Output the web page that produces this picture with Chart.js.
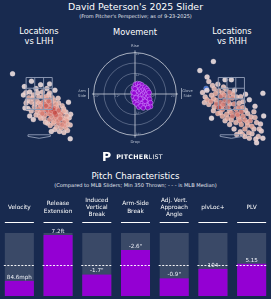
<!DOCTYPE html>
<html lang="en">

<head>
    <meta charset="UTF-8">
    <title>David Peterson's 2025 Slider</title>
    <script src="https://cdn.jsdelivr.net/npm/chart.js"></script>
    <style>
        body {
            margin: 0;
            width: 271px;
            height: 299px;
            background: #182a4f;
            overflow: hidden;
            position: relative;
            font-family: 'DejaVu Sans', sans-serif;
            color: #ffffff;
        }

        .txt {
            position: absolute;
            text-align: center;
            white-space: nowrap;
        }

        canvas {
            position: absolute;
        }
    </style>
</head>

<body>
    <div class="txt" style="left:0;width:271px;top:1px;font-size:9.4px;line-height:12px">David Peterson's 2025 Slider</div>
    <div class="txt" style="left:0;width:271px;top:13px;font-size:5px;line-height:6px;color:#e4e8ef">(From Pitcher's Perspective; as of 9-23-2025)</div>

    <div class="txt" style="left:0;width:78px;top:26px;font-size:8.3px;line-height:10px">Locations<br>vs LHH</div>
    <div class="txt" style="left:85px;width:100px;top:27px;font-size:8.3px;line-height:10px">Movement</div>
    <div class="txt" style="left:193px;width:78px;top:26px;font-size:8.3px;line-height:10px">Locations<br>vs RHH</div>

    <canvas id="locLHH" width="90" height="105" style="left:0;top:45px"></canvas>
    <canvas id="movimento" width="96" height="108" style="left:87px;top:40px"></canvas>
    <canvas id="locRHH" width="90" height="105" style="left:181px;top:45px"></canvas>

    <div class="txt" style="left:102px;top:151px;height:12px;display:flex;align-items:center;gap:5px">
        <span style="font-size:12.5px;font-weight:bold;line-height:12px">P</span>
        <span style="font-size:6.3px;line-height:8px;letter-spacing:0.3px"><b>PITCHER</b>LIST</span>
    </div>

    <div class="txt" style="left:0;width:271px;top:171px;font-size:8.6px;line-height:10px">Pitch Characteristics</div>
    <div class="txt" style="left:0;width:271px;top:182px;font-size:5.1px;line-height:6px;color:#e4e8ef">(Compared to MLB Sliders; Min 350 Thrown; - - - is MLB Median)</div>

    <canvas id="barras" width="271" height="109" style="left:0;top:190px"></canvas>
</body>

</html>
<script>
    // pitch locations in feet (plate_x, plate_z), pitcher's perspective
    const LHH_LOCS = [
        [-1.69, 3.73], [-0.49, 3.27], [0.09, 3.04], [0.66, 3.1], [-0.94, 2.93], [-0.2, 2.81], [0.49, 2.81],
        [-1.0, 2.41], [-0.37, 2.41], [-0.66, 2.24], [0.66, 2.53], [1.0, 2.7], [0.2, 2.59], [-0.03, 2.3],
        [0.43, 2.3], [0.83, 2.24], [-0.83, 1.9], [-0.49, 1.96], [-0.14, 2.01], [0.26, 1.96], [0.6, 2.01],
        [0.94, 2.07], [1.23, 1.9], [-0.71, 1.56], [-0.31, 1.67], [0.09, 1.73], [0.43, 1.73], [0.77, 1.79],
        [1.11, 1.67], [1.46, 1.73], [1.86, 1.96], [-0.14, 1.39], [0.2, 1.44], [0.54, 1.44], [0.89, 1.5],
        [1.23, 1.44], [1.57, 1.39], [0.03, 1.1], [0.37, 1.16], [0.71, 1.21], [1.06, 1.16], [1.4, 1.21],
        [1.74, 1.1], [0.31, 0.93], [0.66, 0.87], [1.0, 0.93], [1.34, 0.93], [1.69, 0.87], [1.91, 0.99],
        [0.54, 0.64], [0.89, 0.64], [1.23, 0.64], [1.57, 0.7], [1.8, 0.59], [1.11, 0.41], [1.4, 0.36],
        [1.69, 0.36], [1.97, 0.53], [1.29, 0.13], [1.57, 0.07], [1.8, 0.19], [0.77, 0.13], [1.97, -0.33],
        [-0.6, 1.1], [-0.37, 0.87], [0.15, 1.85], [0.4, 2.05], [0.55, 1.65], [0.7, 1.55], [0.3, 1.6],
        [0.85, 1.35], [1.0, 1.3], [0.6, 1.25], [1.1, 1.0], [0.8, 1.05], [1.3, 1.1], [1.5, 0.95], [1.2, 0.8],
        [0.95, 0.75], [1.45, 0.55], [1.6, 0.5], [0.1, 1.3], [-0.05, 1.55], [0.0, 1.9], [0.5, 2.15],
        [0.35, 1.85], [0.65, 1.85], [0.8, 1.95], [0.45, 1.5], [0.2, 1.25], [1.15, 1.55], [1.3, 1.3],
        [0.75, 1.4], [0.95, 1.6], [1.05, 1.85], [-0.4, 2.2], [-0.25, 1.85], [-0.6, 2.6], [-0.85, 2.55],
        [-0.75, 2.05], [-0.5, 1.4], [-0.2, 1.15], [0.1, 0.95], [1.75, 0.8], [1.55, 1.55], [1.7, 1.35],
        [2.0, 1.2], [0.4, 0.7], [0.7, 0.5], [1.0, 0.25], [-0.9, 1.6], [0.25, 2.3], [0.6, 2.4], [1.2, 2.2],
        [-0.1, 2.55]
    ];
    const RHH_LOCS = [
        [-1.14, 4.5], [-2.0, 3.93], [-1.54, 3.53], [-1.43, 3.25], [-1.83, 2.56], [-1.66, 2.28], [-1.71, 1.93],
        [-1.43, 1.82], [-1.54, 2.11], [-1.26, 2.39], [-1.09, 2.79], [-0.86, 3.08], [-0.4, 3.36], [0, 3.36],
        [-0.11, 2.56], [-0.23, 2.28], [-0.69, 1.93], [-0.51, 1.82], [0.06, 2.22], [0.34, 2.28], [0.74, 1.99],
        [1.14, 2.11], [2.0, 2.51], [-0.11, 1.42], [0.29, 1.53], [0.63, 1.36], [1.03, 1.25], [1.43, 1.36],
        [0.06, 1.08], [0.46, 0.96], [0.86, 0.85], [1.2, 0.79], [1.6, 0.68], [0.63, 0.56], [1.03, 0.51],
        [1.43, 0.28], [1.77, 0.28], [1.31, -0.01], [1.71, -0.18], [2.0, -0.29], [1.6, -0.58], [0.86, 0.28],
        [0.57, 0.11], [-0.86, 1.25], [-0.57, 1.08], [-1.14, 1.42], [-1.09, 1.65], [-1.26, 0.96], [-0.4, 0.79],
        [-0.11, 0.56], [0.29, 0.68], [0.17, 0.28], [0.34, -0.07], [0.86, -0.18], [1.14, -0.29],
        [-0.8, 2.65], [-0.57, 2.53], [-0.34, 2.76], [-0.69, 2.31], [-0.4, 2.08], [-0.11, 1.85], [-0.97, 2.08],
        [0.17, 1.85], [0.46, 1.62], [-0.23, 1.62], [-0.57, 1.5], [0.74, 1.62], [-0.8, 1.62], [-1.14, 2.19],
        [0.34, 1.25], [0, 0.85], [0.74, 1.08], [-0.45, 2.4], [-0.2, 2.0], [0.1, 2.45], [-0.6, 1.7], [0.0, 1.3],
        [0.5, 1.9], [0.9, 1.45], [1.25, 1.05], [1.0, 0.7], [0.4, 1.15], [-0.3, 1.2], [-0.95, 1.85], [-1.3, 2.0],
        [-1.0, 2.5], [0.6, 2.3], [1.5, 1.0], [1.85, 0.6], [1.3, 0.45], [0.55, 0.8], [-0.25, 0.95], [-0.7, 1.3],
        [0.2, 2.7], [-0.5, 2.9], [-1.2, 3.0], [-1.55, 2.7], [0.9, 2.45], [1.5, 1.7], [2.05, 1.1], [1.9, 0.15],
        [1.1, 0.05], [0.7, -0.05], [1.55, -0.35]
    ];
    const RHH_COLD = [[-1.6, 2.82]];

    // horizontal / induced vertical movement, inches
    const MOVEMENT = [
        [-1.2, 1.0], [-0.8, 3.5], [0.2, 5.5], [1.5, 6.0], [2.8, 5.8], [4.0, 5.2], [-1.0, -1.5], [-0.5, -3.5],
        [0.0, -5.0], [0.8, 1.8], [1.0, -0.5], [1.5, 3.8], [2.0, 1.5], [2.2, -2.0], [2.5, 4.2], [3.0, 0.5],
        [3.2, 2.8], [3.5, -1.0], [3.8, -3.5], [4.0, 1.8], [4.2, 3.8], [4.5, -0.2], [5.0, 2.5], [5.2, -2.2],
        [5.5, 0.8], [5.8, 4.0], [6.0, -1.0], [6.3, 1.8], [6.5, -3.2], [6.8, 3.0], [7.0, 0.2], [7.2, -2.0],
        [7.5, 2.0], [7.8, -4.5], [8.0, -1.0], [8.2, 0.8], [1.8, -3.8], [2.8, -5.0], [4.2, -5.5], [5.5, -6.2],
        [6.8, -6.0], [8.0, -6.5], [9.0, -7.2], [7.5, -7.8], [5.8, -4.2], [3.0, -2.8], [0.5, -2.2], [1.2, -6.0],
        [2.2, -7.5], [3.5, -6.8], [4.8, -8.0], [8.5, -3.0], [9.0, -5.0], [0.0, 3.0], [-0.5, 0.5]
    ];
    const RINGS = [6, 12, 18, 24];

    const METRICS = [['Velocity'], ['Release', 'Extension'], ['Induced', 'Vertical', 'Break'], ['Arm-Side', 'Break'],
        ['Adj. Vert.', 'Approach', 'Angle'], ['plvLoc+'], ['PLV']];
    const PERCENTILES = [24, 97, 34, 73, 28, 43, 51];
    const VALUE_LABELS = ['84.6mph', '7.2ft', '-1.7"', '-2.6"', '-0.9"', '104', '5.15'];
    const MLB_MEDIAN = 50;

    const ZONE_X = [-0.83, -0.28, 0.28, 0.83];
    const ZONE_Z = [1.5, 2.17, 2.83, 3.5];
    const PLATE = [[-0.71, -0.08], [0.71, -0.08], [0.71, -0.18], [0, -0.3], [-0.71, -0.18]];

    const FONTE = "'DejaVu Sans', sans-serif";
    const ROXO = '#9400d3';

    function densidade(pts) {
        return pts.map(p => pts.filter(q => Math.hypot(p[0] - q[0], p[1] - q[1]) < 0.4).length);
    }

    function corCalor(t) {
        t = Math.pow(t, 1.3);
        var a = [243, 228, 228], b = [231, 170, 156], c = [201, 78, 72];
        var de = t < 0.5 ? a : b, para = t < 0.5 ? b : c, k = t < 0.5 ? t * 2 : (t - 0.5) * 2;
        var rgb = de.map((v, i) => Math.round(v + (para[i] - v) * k));
        return `rgba(${rgb[0]},${rgb[1]},${rgb[2]},0.88)`;
    }

    function zonaPlugin(lado) {
        return {
            id: 'zona',
            afterDatasetsDraw(chart) {
                const { ctx, scales: { x, y } } = chart;
                ctx.save();
                ctx.strokeStyle = 'rgba(140,152,178,0.95)';
                ctx.lineWidth = 1;
                ZONE_X.forEach(v => {
                    ctx.beginPath();
                    ctx.moveTo(x.getPixelForValue(v), y.getPixelForValue(ZONE_Z[0]));
                    ctx.lineTo(x.getPixelForValue(v), y.getPixelForValue(ZONE_Z[3]));
                    ctx.stroke();
                });
                ZONE_Z.forEach(v => {
                    ctx.beginPath();
                    ctx.moveTo(x.getPixelForValue(ZONE_X[0]), y.getPixelForValue(v));
                    ctx.lineTo(x.getPixelForValue(ZONE_X[3]), y.getPixelForValue(v));
                    ctx.stroke();
                });
                ctx.beginPath();
                PLATE.forEach((p, i) => {
                    var px = x.getPixelForValue(p[0]), py = y.getPixelForValue(p[1]);
                    if (i === 0) ctx.moveTo(px, py); else ctx.lineTo(px, py);
                });
                ctx.closePath();
                ctx.stroke();

                // side label
                ctx.fillStyle = 'rgba(200,208,222,0.9)';
                ctx.font = '3.6px ' + FONTE;
                ctx.textAlign = 'center';
                ctx.textBaseline = 'middle';
                const yl = y.getPixelForValue(2.5);
                const linhas = lado === 'arm' ? ['Arm', 'Side'] : ['Glove', 'Side'];
                const xl = lado === 'arm' ? chart.width - 8 : 6.5;
                ctx.fillText(linhas[0], xl, yl - 2.3);
                ctx.fillText(linhas[1], xl, yl + 2.3);
                ctx.strokeStyle = 'rgba(200,208,222,0.8)';
                ctx.lineWidth = 0.8;
                const xt = lado === 'arm' ? chart.width - 1.5 : 0.5;
                ctx.beginPath();
                ctx.moveTo(xt, yl - 5.5);
                ctx.lineTo(xt, yl + 5.5);
                ctx.stroke();
                ctx.restore();
            }
        };
    }

    function graficoLocal(id, pts, xMin, xMax, lado, frios) {
        const dens = densidade(pts);
        const dmin = Math.min(...dens), dmax = Math.max(...dens);
        const ordem = pts.map((p, i) => i).sort((a, b) => dens[a] - dens[b]);
        const datasets = [{
            data: ordem.map(i => ({ x: pts[i][0], y: pts[i][1] })),
            backgroundColor: ordem.map(i => corCalor((dens[i] - dmin) / (dmax - dmin))),
            borderColor: 'rgba(255,240,240,0.45)',
            borderWidth: 0.5,
            pointRadius: 2.5,
            clip: false
        }];
        if (frios) {
            datasets.push({
                data: frios.map(p => ({ x: p[0], y: p[1] })),
                backgroundColor: '#3d6fd6',
                borderColor: 'rgba(255,255,255,0.4)',
                borderWidth: 0.5,
                pointRadius: 2.5,
                clip: false
            });
        }
        return new Chart(document.getElementById(id), {
            type: 'scatter',
            data: { datasets: datasets },
            options: {
                responsive: false,
                animation: false,
                events: [],
                layout: { padding: 0 },
                plugins: { legend: { display: false }, tooltip: { enabled: false } },
                scales: {
                    x: { type: 'linear', min: xMin, max: xMax, display: false },
                    y: { type: 'linear', min: -0.75, max: 5.25, display: false }
                }
            },
            plugins: [zonaPlugin(lado)]
        });
    }

    const aneisPlugin = {
        id: 'aneis',
        beforeDatasetsDraw(chart) {
            const { ctx, scales: { x, y } } = chart;
            const cx = x.getPixelForValue(0), cy = y.getPixelForValue(0);
            ctx.save();
            RINGS.forEach(r => {
                ctx.beginPath();
                ctx.arc(cx, cy, x.getPixelForValue(r) - cx, 0, Math.PI * 2);
                ctx.strokeStyle = r === 24 ? 'rgba(235,238,245,0.85)' : 'rgba(175,186,208,0.5)';
                ctx.lineWidth = 0.8;
                ctx.stroke();
            });
            ctx.strokeStyle = 'rgba(235,238,245,0.85)';
            ctx.beginPath();
            ctx.moveTo(x.getPixelForValue(-25), cy);
            ctx.lineTo(x.getPixelForValue(25), cy);
            ctx.moveTo(cx, y.getPixelForValue(25));
            ctx.lineTo(cx, y.getPixelForValue(-25));
            ctx.stroke();

            ctx.fillStyle = 'rgba(205,212,226,0.9)';
            ctx.textAlign = 'center';
            ctx.textBaseline = 'middle';
            ctx.font = '3.8px ' + FONTE;
            ctx.fillText('Rise', cx, y.getPixelForValue(27.3));
            ctx.fillText('Drop', cx, y.getPixelForValue(-27.3));
            ctx.font = '3px ' + FONTE;
            ctx.fillStyle = 'rgba(175,186,208,0.8)';
            [12, 24].forEach(r => {
                ctx.fillText(r + '"', cx + 3, y.getPixelForValue(r) + 2);
                ctx.fillText(r + '"', cx + 3, y.getPixelForValue(-r) - 2);
                ctx.fillText(r + '"', x.getPixelForValue(-r) + 3, cy + 2.5);
                ctx.fillText(r + '"', x.getPixelForValue(r) - 3, cy + 2.5);
            });
            ctx.restore();
        }
    };

    const colunasPlugin = {
        id: 'colunas',
        afterDatasetsDraw(chart) {
            const { ctx, scales: { y } } = chart;
            const meta = chart.getDatasetMeta(1);
            const ym = Math.round(y.getPixelForValue(MLB_MEDIAN)) + 0.5;
            ctx.save();
            meta.data.forEach((bar, i) => {
                const half = bar.width / 2;

                ctx.setLineDash([2, 1.5]);
                ctx.strokeStyle = 'rgba(255,255,255,0.95)';
                ctx.lineWidth = 1;
                ctx.beginPath();
                ctx.moveTo(bar.x - half - 1, ym);
                ctx.lineTo(bar.x + half + 1, ym);
                ctx.stroke();
                ctx.setLineDash([]);

                ctx.fillStyle = '#eef0f6';
                ctx.textAlign = 'center';
                ctx.textBaseline = 'bottom';
                ctx.font = '5.6px ' + FONTE;
                ctx.fillText(VALUE_LABELS[i], bar.x, y.getPixelForValue(PERCENTILES[i]) - 1);

                // column titles
                const linhas = METRICS[i];
                ctx.fillStyle = '#ffffff';
                ctx.textBaseline = 'middle';
                ctx.font = '5.8px ' + FONTE;
                linhas.forEach((t, k) => {
                    ctx.fillText(t, bar.x, 17.5 + (k - (linhas.length - 1) / 2) * 7.2);
                });

                ctx.strokeStyle = '#ffffff';
                ctx.lineWidth = 1;
                ctx.beginPath();
                ctx.moveTo(bar.x - half, 32.5);
                ctx.lineTo(bar.x + half, 32.5);
                ctx.stroke();
            });
            ctx.restore();
        }
    };

    window.onload = () => {
        graficoLocal('locLHH', LHH_LOCS, -2.2, 2.94, 'arm');
        graficoLocal('locRHH', RHH_LOCS, -2.91, 2.23, 'glove', RHH_COLD);

        new Chart(document.getElementById('movimento'), {
            type: 'scatter',
            data: {
                datasets: [{
                    data: MOVEMENT.map(p => ({ x: p[0], y: p[1] })),
                    backgroundColor: 'rgba(148,0,211,0.88)',
                    borderColor: 'rgba(208,150,255,0.9)',
                    borderWidth: 0.6,
                    pointRadius: 2.4,
                    clip: false
                }]
            },
            options: {
                responsive: false,
                animation: false,
                events: [],
                layout: { padding: 0 },
                plugins: { legend: { display: false }, tooltip: { enabled: false } },
                scales: {
                    x: { type: 'linear', min: -25.2, max: 25.2, display: false },
                    y: { type: 'linear', min: -28.35, max: 28.35, display: false }
                }
            },
            plugins: [aneisPlugin]
        });

        new Chart(document.getElementById('barras'), {
            type: 'bar',
            data: {
                labels: METRICS.map(m => m.join(' ')),
                datasets: [
                    { label: 'Percentile', data: PERCENTILES, backgroundColor: ROXO, order: 0, grouped: false, barPercentage: 0.75, categoryPercentage: 1 },
                    { label: 'Scale', data: METRICS.map(() => 100), backgroundColor: '#3a4967', order: 1, grouped: false, barPercentage: 0.75, categoryPercentage: 1 }
                ]
            },
            options: {
                responsive: false,
                animation: false,
                events: [],
                layout: { padding: { top: 43, bottom: 3, left: 0, right: 0 } },
                plugins: { legend: { display: false }, tooltip: { enabled: false } },
                scales: {
                    x: { display: false },
                    y: { display: false, min: 0, max: 100 }
                }
            },
            plugins: [colunasPlugin]
        });
    };
</script>
